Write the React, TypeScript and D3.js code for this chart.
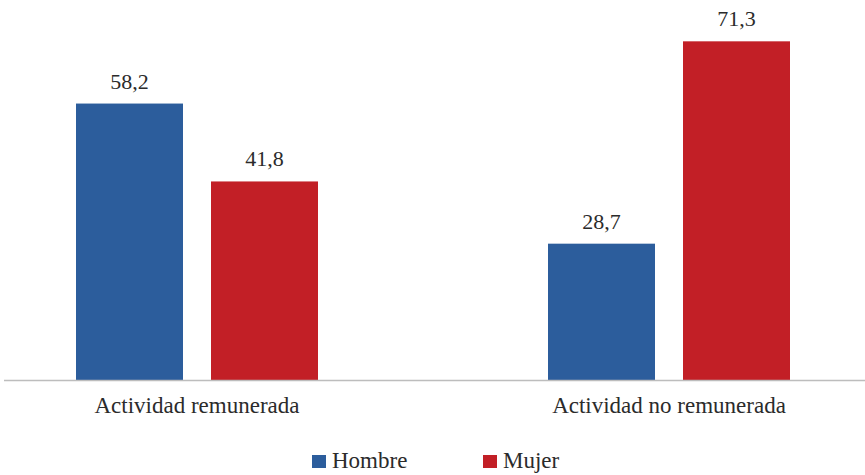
import * as d3 from 'd3';

const categories = ['Actividad remunerada', 'Actividad no remunerada'];
const seriesNames = ['Hombre', 'Mujer'];
const hombre = [58.2, 28.7];
const mujer = [41.8, 71.3];
const seriesColors = ['#2C5D9C', '#C21F26'];

const width = 865;
const height = 475;
const baseline = 380;
const textStyle = { fontFamily: 'Liberation Serif' };
const textColor = '#2b2b2b';

const fmt = (v: number) => v.toFixed(1).replace('.', ',');

export default function App(): React.ReactNode {
  const x0 = d3.scaleBand<string>().domain(categories).range([-39, 905]).padding(0);
  const groupW = 242;
  const x1 = d3.scaleBand<string>().domain(seriesNames).range([0, groupW]).paddingInner(0.2074).paddingOuter(0);
  const y = d3.scaleLinear().domain([0, 80]).range([baseline, 0]);
  const values = [hombre, mujer];

  const legendItems = [
    { name: 'Hombre', x: 312, color: seriesColors[0] },
    { name: 'Mujer', x: 483, color: seriesColors[1] },
  ];

  return (
    <div style={{ position: 'absolute', left: 0, top: 0, width, height, background: '#fff' }}>
      <svg width={width} height={height} style={{ display: 'block' }}>
        {categories.map((c, ci) => {
          const gx = (x0(c) ?? 0) + x0.bandwidth() / 2 - groupW / 2;
          return (
            <g key={c} transform={`translate(${gx},0)`}>
              {seriesNames.map((s, si) => {
                const v = values[si][ci];
                const bx = x1(s) ?? 0;
                return (
                  <g key={s}>
                    <rect
                      x={bx}
                      y={y(v)}
                      width={x1.bandwidth()}
                      height={baseline - y(v)}
                      fill={seriesColors[si]}
                    />
                    <text
                      x={bx + x1.bandwidth() / 2}
                      y={y(v) - 15}
                      textAnchor="middle"
                      fontSize={22}
                      fill={textColor}
                      style={textStyle}
                    >
                      {fmt(v)}
                    </text>
                  </g>
                );
              })}
              <text x={groupW / 2} y={413} textAnchor="middle" fontSize={23} fill={textColor} style={textStyle}>
                {c}
              </text>
            </g>
          );
        })}
        <line x1={4} x2={width} y1={380.5} y2={380.5} stroke="#bdbdbd" strokeWidth={1.5} />
        {legendItems.map((l) => (
          <g key={l.name}>
            <rect x={l.x} y={455} width={14} height={13} fill={l.color} />
            <text x={l.x + 20} y={468} fontSize={23} fill={textColor} style={textStyle}>
              {l.name}
            </text>
          </g>
        ))}
      </svg>
    </div>
  );
}
